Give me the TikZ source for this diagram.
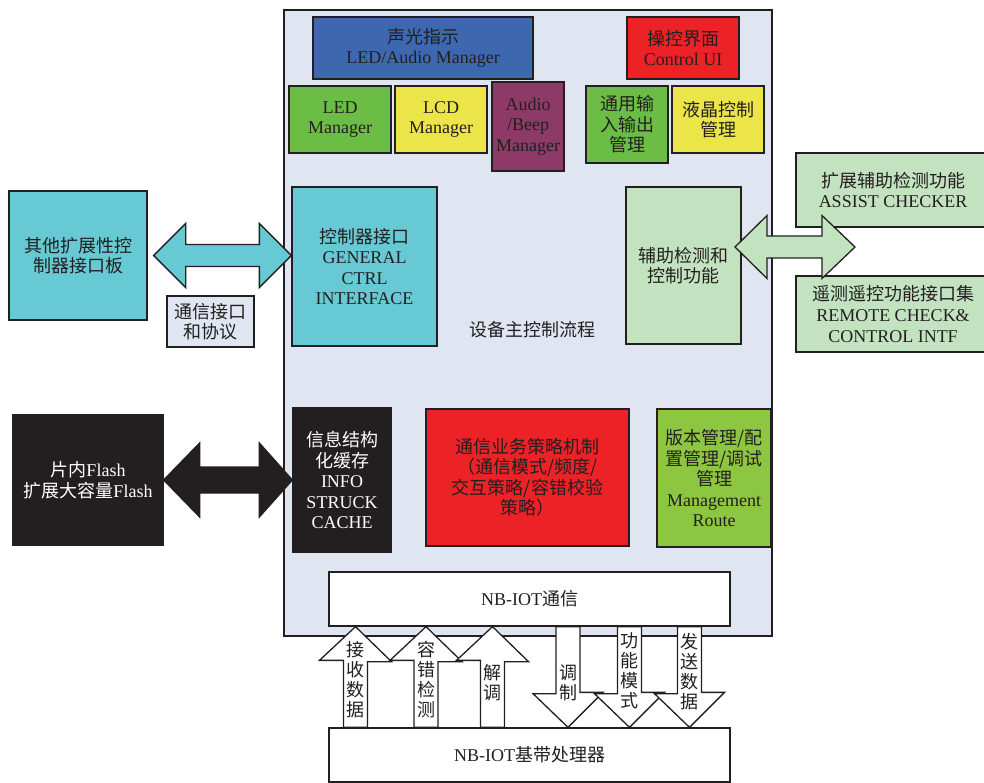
\documentclass[tikz,border=0pt]{standalone}
\usepackage{fontspec}
\setmainfont{Liberation Serif}
\newfontfamily\zhfont{Noto Sans CJK SC}
\usepackage{tikz}
\usetikzlibrary{calc}

\definecolor{ink}{HTML}{231F20}
\definecolor{mainbg}{HTML}{DFE6F1}
\definecolor{ledblue}{HTML}{3D68B0}
\definecolor{uired}{HTML}{EC2227}
\definecolor{ledgreen}{HTML}{6CBD45}
\definecolor{lcdyellow}{HTML}{EBE54A}
\definecolor{beeppurple}{HTML}{8D3B66}
\definecolor{ifteal}{HTML}{66C9D4}
\definecolor{auxgreen}{HTML}{C3E3C0}
\definecolor{vergreen}{HTML}{8DC641}

\begin{document}
\begin{tikzpicture}[x=1pt,y=-1pt,font=\fontsize{18}{20.5}\selectfont]
  \tikzstyle{every node}=[text=ink]
  \tikzstyle{block}=[rectangle,draw=ink,line width=1.3pt,inner sep=0pt,align=center]
  \tikzstyle{zh}=[font=\zhfont\fontsize{18}{20.5}\selectfont]
  \tikzstyle{fat}=[draw=ink,line width=1.3pt,line join=miter]
  \tikzstyle{vlabel}=[align=center,inner sep=0pt,font=\zhfont\fontsize{18}{20}\selectfont]
  \useasboundingbox (0,0) rectangle (984,783);

  \node[block,fill=mainbg,minimum width=488pt,minimum height=626pt] (main) at (528,323) {};
  \node[zh] (flow) at (532,330) {设备主控制流程};

  % top row
  \node[block,fill=ledblue,minimum width=220pt,minimum height=62pt] (sound) at (423,48)
    {{\zhfont 声光指示}\\LED/Audio Manager};
  \node[block,fill=uired,minimum width=112pt,minimum height=62pt] (ui) at (683,48)
    {{\zhfont 操控界面}\\Control UI};
  \node[block,fill=ledgreen,minimum width=102pt,minimum height=67pt] (led) at (340,119.5) {LED\\Manager};
  \node[block,fill=lcdyellow,minimum width=92pt,minimum height=67pt] (lcd) at (441,119.5) {LCD\\Manager};
  \node[block,fill=beeppurple,minimum width=72pt,minimum height=89pt] (beep) at (528,126.5) {Audio\\/Beep\\Manager};
  \node[block,zh,fill=ledgreen,minimum width=82pt,minimum height=77pt] (gpio) at (627,124.5) {通用输\\入输出\\管理};
  \node[block,zh,fill=lcdyellow,minimum width=92pt,minimum height=67pt] (lcdctl) at (718,119.5) {液晶控制\\管理};

  % interfaces
  \node[block,zh,fill=ifteal,minimum width=138pt,minimum height=129pt] (other) at (78,255.5) {其他扩展性控\\制器接口板};
  \node[block,zh,fill=mainbg,minimum width=87pt,minimum height=51pt] (proto) at (210.5,321.5) {通信接口\\和协议};
  \node[block,fill=ifteal,minimum width=145pt,minimum height=159pt] (ctrl) at (364.5,266.5)
    {{\zhfont 控制器接口}\\GENERAL\\CTRL\\INTERFACE};
  \node[block,zh,fill=auxgreen,minimum width=115pt,minimum height=157pt] (aux) at (683.5,265.5) {辅助检测和\\控制功能};
  \node[block,fill=auxgreen,minimum width=194pt,minimum height=74pt] (chk) at (893,190)
    {{\zhfont 扩展辅助检测功能}\\ASSIST CHECKER};
  \node[block,fill=auxgreen,minimum width=194pt,minimum height=76pt] (rmt) at (893,314)
    {{\zhfont 遥测遥控功能接口集}\\REMOTE CHECK\&\\CONTROL INTF};

  % storage and strategy
  \node[block,fill=ink,text=white,minimum width=150pt,minimum height=130pt] (flash) at (88,480)
    {{\zhfont 片内}Flash\\{\zhfont 扩展大容量}Flash};
  \node[block,fill=ink,text=white,minimum width=98pt,minimum height=144pt] (info) at (342,480)
    {{\zhfont 信息结构}\\{\zhfont 化缓存}\\INFO\\STRUCK\\CACHE};
  \node[block,zh,fill=uired,minimum width=203pt,minimum height=137pt] (strat) at (527.5,477.5)
    {通信业务策略机制\\（通信模式/频度/\\交互策略/容错校验\\策略）};
  \node[block,fill=vergreen,minimum width=114pt,minimum height=138pt] (ver) at (714,478)
    {{\zhfont 版本管理/配}\\{\zhfont 置管理/调试}\\{\zhfont 管理}\\Management\\Route};

  \node[block,fill=white,minimum width=401pt,minimum height=54pt] (comm) at (529.5,599) {NB-IOT{\zhfont 通信}};
  \node[block,fill=white,minimum width=401pt,minimum height=54pt] (base) at (529.5,755) {NB-IOT{\zhfont 基带处理器}};

  % block arrows
  \coordinate (ta) at ($(other.east)+(6,0)$);
  \draw[fat,fill=ifteal] (ta) -- ++(32,-32) -- ++(0,21) -- ($(ctrl.west |- ta)+(-32,-11)$) -- ++(0,-21)
    -- (ctrl.west |- ta) -- ++(-32,32) -- ++(0,-21) -- ($(ta)+(32,11)$) -- ++(0,21) -- cycle;
  \coordinate (ga) at (735,247);
  \coordinate (gb) at (855,247);
  \draw[fat,fill=auxgreen] (ga) -- ++(32,-31.5) -- ++(0,20.5) -- ($(gb)+(-33,-11)$) -- ++(0,-20.5)
    -- (gb) -- ++(-33,31.5) -- ++(0,-20.5) -- ($(ga)+(32,11)$) -- ++(0,20.5) -- cycle;
  \draw[fat,fill=ink] (flash.east) -- ++(36,-37) -- ++(0,24) -- ($(info.west)+(-33,-13)$) -- ++(0,-24)
    -- (info.west) -- ++(-33,37) -- ++(0,-24) -- ($(flash.east)+(36,13)$) -- ++(0,24) -- cycle;

  \foreach \x in {355.5,426,492.5}
    \draw[fat,fill=white] (\x-12,0 |- base.north) -- ++(0,-67) -- ++(-24,0) -- (\x,0 |- comm.south)
      -- ++(36,35) -- ++(-24,0) -- (\x+12,0 |- base.north) -- cycle;
  \foreach \x in {568,629.5,689.5}
    \draw[fat,fill=white] (\x-12,0 |- comm.south) -- ++(0,67) -- ++(-23,0) -- (\x,0 |- base.north)
      -- ++(35,-35) -- ++(-23,0) -- (\x+12,0 |- comm.south) -- cycle;

  \foreach \x/\y/\t/\lbl in {355.5/680/{接\\收\\数\\据}/rx, 426/680/{容\\错\\检\\测}/fec,
      492.5/683/{解\\调}/demod, 568/683/{调\\制}/mod, 629.5/671/{功\\能\\模\\式}/mode,
      689.5/672/{发\\送\\数\\据}/tx}
    \node[vlabel] (\lbl) at (\x,\y) {\t};
\end{tikzpicture}
\end{document}
